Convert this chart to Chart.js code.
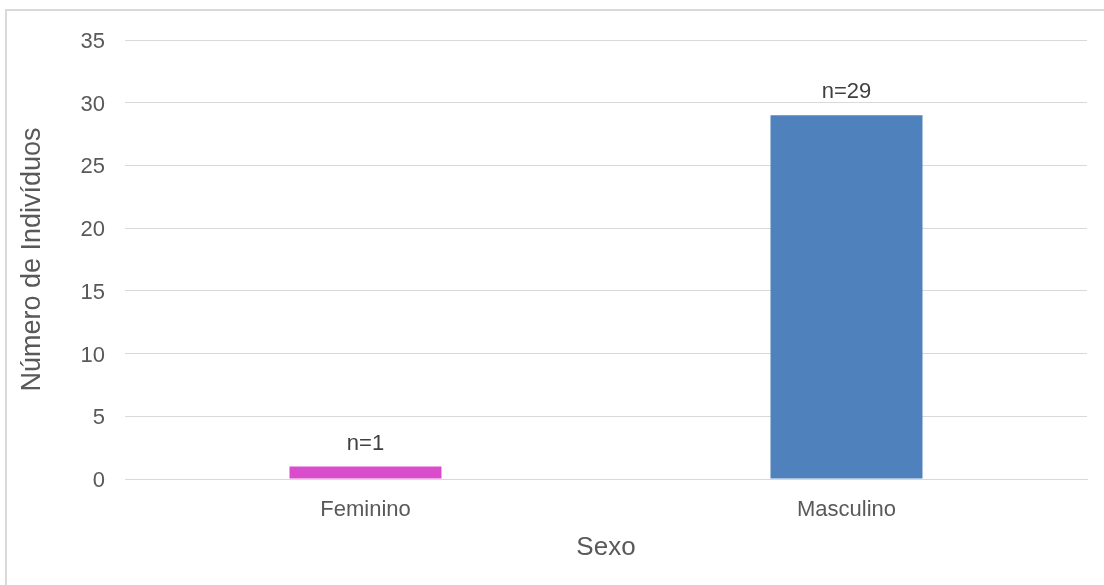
<!DOCTYPE html>
<html>
<head>
<meta charset="utf-8">
<script src="https://cdn.jsdelivr.net/npm/chart.js@4.4.1/dist/chart.umd.min.js"></script>
<style>
    body { margin: 0; background: #ffffff; overflow: hidden; }
    #frame { position: absolute; left: 5px; top: 9px; width: 1110px; height: 590px; border: 2px solid #d9d9d9; }
    canvas { position: absolute; left: 0; top: 0; }
</style>
</head>
<body>
<div id="frame"></div>
<canvas id="sexoChart" width="1104" height="585"></canvas>
<script>
// Dados do gráfico
const categorias = ["Feminino", "Masculino"];
const individuos = [1, 29];
const rotulos = ["n=1", "n=29"];
const cores = ["#d94ccb", "#4f81bd"];
const yMax = 35;
const yPasso = 5;

// Rótulos acima das barras
const rotulosBarras = {
    id: "rotulosBarras",
    afterDatasetsDraw(chart) {
        const ctx = chart.ctx;
        const meta = chart.getDatasetMeta(0);
        ctx.save();
        ctx.font = "22px 'Liberation Sans', Arial, sans-serif";
        ctx.fillStyle = "#404040";
        ctx.textAlign = "center";
        ctx.textBaseline = "middle";
        meta.data.forEach((bar, i) => {
            ctx.fillText(rotulos[i], bar.x, bar.y - 23);
        });
        ctx.restore();
    }
};

const ctx = document.getElementById("sexoChart").getContext("2d");
const sexoChart = new Chart(ctx, {
    type: "bar",
    data: {
        labels: categorias,
        datasets: [{
            data: individuos,
            backgroundColor: cores,
            barPercentage: 0.316,
            categoryPercentage: 1
        }]
    },
    options: {
        responsive: false,
        animation: false,
        layout: { padding: { left: 12, right: 17, top: 40, bottom: 18 } },
        plugins: {
            legend: { display: false },
            tooltip: { enabled: false }
        },
        scales: {
            x: {
                grid: { display: false, drawTicks: false },
                border: { color: "#d9d9d9", width: 1 },
                ticks: { color: "#595959", font: { family: "'Liberation Sans', Arial", size: 22 }, padding: 18 },
                title: { display: true, text: "Sexo", color: "#595959", font: { family: "'Liberation Sans', Arial", size: 26 } },
                afterFit(scale) { scale.height = 88; }
            },
            y: {
                min: 0,
                max: yMax,
                grid: { color: "#d9d9d9", drawTicks: false },
                border: { display: false },
                ticks: { stepSize: yPasso, color: "#595959", font: { family: "'Liberation Sans', Arial", size: 22 }, padding: 20, labelOffset: 2 },
                title: { display: true, text: "Número de Indivíduos", color: "#595959", font: { family: "'Liberation Sans', Arial", size: 27 } },
                afterFit(scale) { scale.width = 113; }
            }
        }
    },
    plugins: [rotulosBarras]
});
</script>
</body>
</html>
